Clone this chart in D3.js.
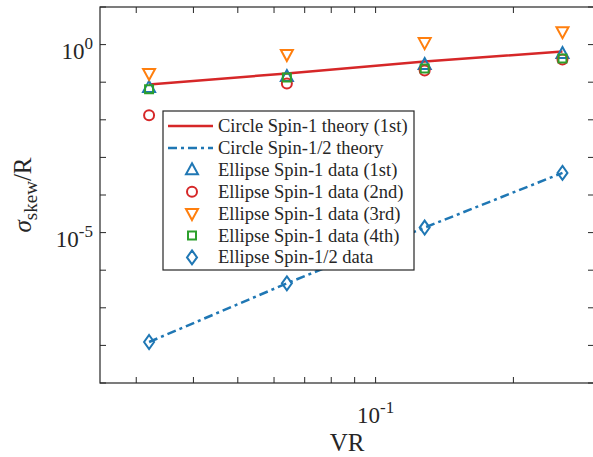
<!DOCTYPE html>
<html>
<head>
<meta charset="utf-8">
<script src="https://cdn.jsdelivr.net/npm/d3@7"></script>
<style>
  body { margin: 0; background: #fff; }
  text { font-family: "Liberation Serif", "Times New Roman", serif; fill: #262626; }
</style>
</head>
<body>
<div id="content"></div>
<script>
var vr = [0.032, 0.064, 0.128, 0.256];
var spin1Theory = [0.0875, 0.171, 0.355, 0.653];
var spinHalfTheory = [1.23e-8, 4.47e-7, 1.36e-5, 3.87e-4];
var spin1Data1 = [0.0728, 0.142, 0.296, 0.578];
var spin1Data2 = [0.0132, 0.093, 0.205, 0.401];
var spin1Data3 = [0.171, 0.544, 1.13, 2.21];
var spin1Data4 = [0.0645, 0.134, 0.232, 0.426];
var spinHalfData = [1.23e-8, 4.47e-7, 1.36e-5, 3.87e-4];

var xTicks = [0.03, 0.04, 0.05, 0.06, 0.07, 0.08, 0.09, 0.1, 0.2];
var yTicks = [1e-9, 1e-8, 1e-7, 1e-6, 1e-5, 1e-4, 1e-3, 1e-2, 1e-1, 1e0, 1e1];
var xLabels = [{ v: 0.1, exp: '-1' }];
var yLabels = [{ v: 1e0, exp: '0' }, { v: 1e-5, exp: '-5' }];
var legendNames = ['Circle Spin-1 theory (1st)', 'Circle Spin-1/2 theory', 'Ellipse Spin-1 data (1st)',
  'Ellipse Spin-1 data (2nd)', 'Ellipse Spin-1 data (3rd)', 'Ellipse Spin-1 data (4th)', 'Ellipse Spin-1/2 data'];

var width = 593, height = 457;
var axLeft = 100, axTop = 7, axRight = 594, axBottom = 383;
var axisColor = '#262626';

var svg = d3.select('#content').append('svg').attr('width', width).attr('height', height);

var x = d3.scaleLog().domain([0.025, 0.3]).range([axLeft, axRight]);
var y = d3.scaleLog().domain([1e-9, 1e1]).range([axBottom, axTop]);

// box
svg.append('rect').attr('x', axLeft).attr('y', axTop).attr('width', axRight - axLeft).attr('height', axBottom - axTop)
  .style('fill', 'none').style('stroke', axisColor).style('stroke-width', 1.2);

// ticks
var tl = 6;
xTicks.forEach(function(t){
  svg.append('line').attr('x1', x(t)).attr('x2', x(t)).attr('y1', axBottom).attr('y2', axBottom - tl).style('stroke', axisColor);
  svg.append('line').attr('x1', x(t)).attr('x2', x(t)).attr('y1', axTop).attr('y2', axTop + tl).style('stroke', axisColor);
});
yTicks.forEach(function(t){
  svg.append('line').attr('x1', axLeft).attr('x2', axLeft + tl).attr('y1', y(t)).attr('y2', y(t)).style('stroke', axisColor);
  svg.append('line').attr('x1', axRight).attr('x2', axRight - tl).attr('y1', y(t)).attr('y2', y(t)).style('stroke', axisColor);
});

function powerLabel(sel, exp) {
  sel.append('tspan').text('10');
  sel.append('tspan').attr('dy', -10).style('font-size', '17px').text(exp);
}

xLabels.forEach(function(d){
  var t = svg.append('text').attr('x', x(d.v)).attr('y', 423).style('font-size', '23px').style('text-anchor', 'middle');
  powerLabel(t, d.exp);
});
yLabels.forEach(function(d){
  var t = svg.append('text').attr('x', 93).attr('y', y(d.v) + 14).style('font-size', '23px').style('text-anchor', 'end');
  powerLabel(t, d.exp);
});

// axis labels
svg.append('text').attr('x', (axLeft + axRight) / 2).attr('y', 451).style('font-size', '25px')
  .style('text-anchor', 'middle').text('VR');

var yl = svg.append('text').attr('transform', 'translate(31,' + ((axTop + axBottom) / 2) + ') rotate(-90)')
  .style('font-size', '25px').style('text-anchor', 'middle');
yl.append('tspan').style('font-style', 'italic').text('σ');
yl.append('tspan').attr('dy', 6).style('font-size', '19px').text('skew');
yl.append('tspan').attr('dy', -6).text('/R');

// lines
var line = d3.line().x(function(d){ return x(d[0]); }).y(function(d){ return y(d[1]); });
svg.append('path').datum(d3.zip(vr, spin1Theory)).attr('d', line)
  .style('fill', 'none').style('stroke', '#d62728').style('stroke-width', 2.5);
svg.append('path').datum(d3.zip(vr, spinHalfTheory)).attr('d', line)
  .style('fill', 'none').style('stroke', '#1f77b4').style('stroke-width', 2.5).style('stroke-dasharray', '9,4,3,4');

// markers
var shapes = {
  up: 'M0,-6.5L6,4.5L-6,4.5Z',
  down: 'M0,6.5L6,-4.5L-6,-4.5Z',
  square: 'M-4,-4L4,-4L4,4L-4,4Z',
  diamond: 'M0,-7L5,0L0,7L-5,0Z'
};
var series = [
  { vals: spin1Data1, shape: 'up', color: '#1f77b4' },
  { vals: spin1Data2, shape: 'circle', color: '#d62728' },
  { vals: spin1Data3, shape: 'down', color: '#ff7f0e' },
  { vals: spin1Data4, shape: 'square', color: '#2ca02c' },
  { vals: spinHalfData, shape: 'diamond', color: '#1f77b4' }
];

function marker(g, shape, color) {
  var m;
  if (shape === 'circle') {
    m = g.append('circle').attr('r', 5);
  } else {
    m = g.append('path').attr('d', shapes[shape]);
  }
  m.style('fill', 'none').style('stroke', color).style('stroke-width', 2);
}

series.forEach(function(s){
  s.vals.forEach(function(v, i){
    var g = svg.append('g').attr('transform', 'translate(' + x(vr[i]) + ',' + y(v) + ')');
    marker(g, s.shape, s.color);
  });
});

// legend
var lg = svg.append('g');
lg.append('rect').attr('x', 163).attr('y', 111).attr('width', 251).attr('height', 159)
  .style('fill', '#fff').style('stroke', axisColor).style('stroke-width', 1.2);
legendNames.forEach(function(name, i){
  var ry = 126 + i * 21.9;
  if (i === 0) {
    lg.append('line').attr('x1', 168).attr('x2', 213).attr('y1', ry).attr('y2', ry)
      .style('stroke', '#d62728').style('stroke-width', 2.5);
  } else if (i === 1) {
    lg.append('line').attr('x1', 168).attr('x2', 213).attr('y1', ry).attr('y2', ry)
      .style('stroke', '#1f77b4').style('stroke-width', 2.5).style('stroke-dasharray', '9,4,3,4');
  } else {
    var s = series[i - 2];
    var g = lg.append('g').attr('transform', 'translate(192,' + ry + ')');
    marker(g, s.shape, s.color);
  }
  lg.append('text').attr('x', 218).attr('y', ry + 6).style('font-size', '18.5px').text(name);
});
</script>
</body>
</html>
